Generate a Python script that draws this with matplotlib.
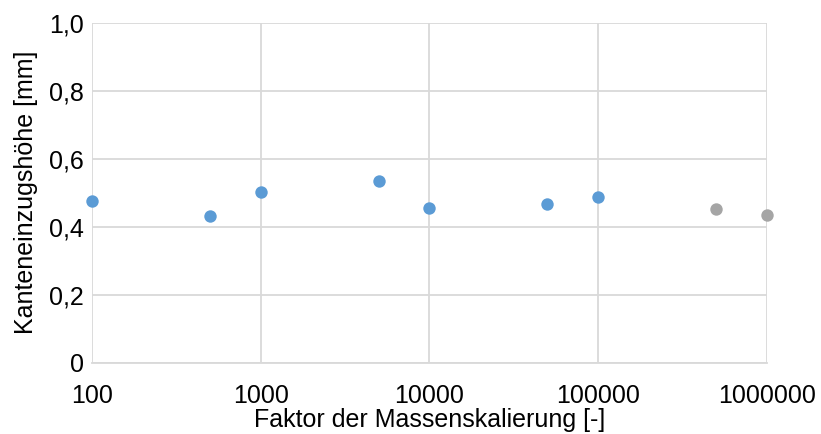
import matplotlib
matplotlib.use("Agg")
import matplotlib.pyplot as plt
from matplotlib.ticker import FuncFormatter, FixedLocator

plt.rcParams['font.family'] = ['Liberation Sans', 'DejaVu Sans']

# Massenskalierung, gemessene Kanteneinzugshoehe
x_blue = [100, 500, 1000, 5000, 10000, 50000, 100000]
y_blue = [0.476, 0.431, 0.503, 0.535, 0.454, 0.467, 0.486]
x_grey = [500000, 1000000]
y_grey = [0.451, 0.435]

x_ticks = [100, 1000, 10000, 100000, 1000000]
y_ticks = [0, 0.2, 0.4, 0.6, 0.8, 1.0]

fig = plt.figure(figsize=(8.21, 4.34), dpi=100)
ax = fig.add_axes([0.112, 0.164, 0.822, 0.784])

ax.set_xscale('log')
ax.set_xlim(100, 1000000)
ax.set_ylim(0, 1.0)

ax.scatter(x_blue, y_blue, s=80, color='#5B9BD5', zorder=3, clip_on=False, linewidths=0)
ax.scatter(x_grey, y_grey, s=80, color='#A5A5A5', zorder=3, clip_on=False, linewidths=0)

ax.xaxis.set_major_locator(FixedLocator(x_ticks))
ax.xaxis.set_minor_locator(FixedLocator([]))
ax.xaxis.set_major_formatter(FuncFormatter(lambda v, p: '%d' % round(v)))
ax.yaxis.set_major_locator(FixedLocator(y_ticks))
ax.yaxis.set_major_formatter(FuncFormatter(lambda v, p: '0' if v == 0 else ('%.1f' % v).replace('.', ',')))

ax.grid(True, color='#D9D9D9', linewidth=1.3)
ax.set_axisbelow(True)
for side in ['top', 'right', 'left']:
    ax.spines[side].set_visible(False)
ax.spines['bottom'].set_color('#D9D9D9')
ax.spines['bottom'].set_linewidth(1.3)

ax.tick_params(axis='both', length=0, labelsize=18, colors='black')
ax.tick_params(axis='x', pad=15)
ax.tick_params(axis='y', pad=6)

ax.set_xlabel('Faktor der Massenskalierung [-]', fontsize=18, labelpad=0)
ax.set_ylabel('Kanteneinzugshöhe [mm]', fontsize=18, labelpad=8)

fig.savefig('out.png', dpi=100)
